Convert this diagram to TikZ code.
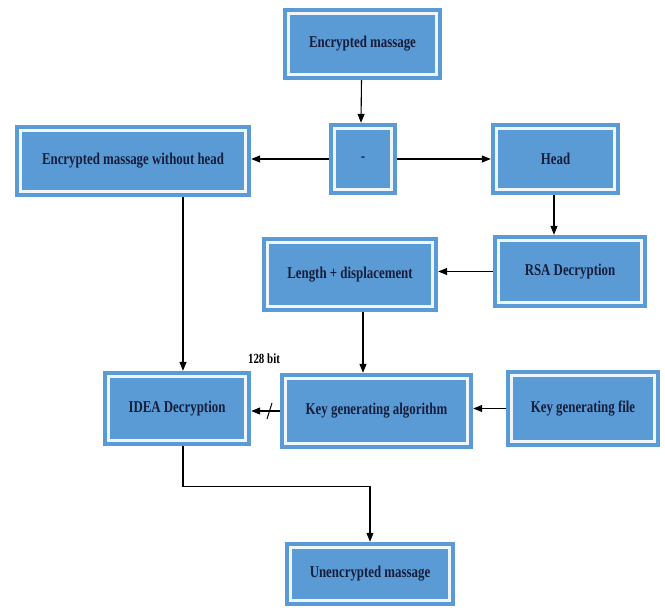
\documentclass[tikz,border=0pt]{standalone}
\usepackage{fontspec}
\setmainfont{Liberation Serif}
\newfontfamily\boxfont[FakeStretch=0.78]{Liberation Serif}
\usetikzlibrary{arrows.meta,calc}
\definecolor{boxblue}{HTML}{5B9BD5}
\definecolor{innerline}{HTML}{EEF6FC}
\definecolor{txtnavy}{HTML}{161E3C}
\tikzset{
  bluebox/.style={fill=boxblue, draw=none, inner sep=0pt,
    font=\boxfont\bfseries\fontsize{16.5}{18}\selectfont, text=txtnavy,
    path picture={\draw[innerline, line width=2.2pt]
      ([shift={(5.5pt,5.5pt)}]path picture bounding box.south west) rectangle
      ([shift={(-5.5pt,-5.5pt)}]path picture bounding box.north east);}},
  arr/.style={draw=black, line width=1.1pt, -{Triangle[length=9pt,width=7pt]}},
  lbl/.style={font=\boxfont\bfseries\fontsize{14}{16}\selectfont, text=black}
}
\begin{document}
\begin{tikzpicture}[x=1pt,y=-1pt]
\useasboundingbox (0,0) rectangle (665,608);
\node[bluebox, minimum width=159pt, minimum height=72pt] (top) at (362.5,44) {Encrypted massage};
\node[bluebox, minimum width=68pt, minimum height=72pt] (minus) at (363,159) {-};
\node[bluebox, minimum width=236pt, minimum height=72pt] (woh) at (133,161) {Encrypted massage without head};
\node[bluebox, minimum width=129pt, minimum height=72pt] (head) at (555.5,159) {Head};
\node[bluebox, minimum width=154pt, minimum height=73pt] (rsa) at (570,271.5) {RSA Decryption};
\node[bluebox, minimum width=176pt, minimum height=75pt] (len) at (350,274.5) {Length + displacement};
\node[bluebox, minimum width=148pt, minimum height=75pt] (idea) at (177,408.5) {IDEA Decryption};
\node[bluebox, minimum width=193pt, minimum height=76pt] (kga) at (376.5,411) {Key generating algorithm};
\node[bluebox, minimum width=154pt, minimum height=77pt] (kgf) at (583,408.5) {Key generating file};
\node[bluebox, minimum width=170pt, minimum height=64pt] (unenc) at (370,574) {Unencrypted massage};
\node[lbl] (bits) at (264,359) {128 bit};

\draw[arr] ([xshift=-1pt]top.south) -- ([xshift=-2pt]minus.north);
\draw[arr] (minus.west) -- (minus.west -| woh.east);
\draw[arr] (minus.east) -- (head.west);
\draw[arr] ([xshift=-1.5pt]head.south) -- ([xshift=-1.5pt]head.south |- rsa.north);
\draw[arr] (rsa.west) -- (rsa.west -| len.east);
\draw[arr] ([xshift=13pt]len.south) -- ([xshift=13pt]len.south |- kga.north);
\draw[arr] ([xshift=50pt]woh.south) -- ([xshift=50pt]woh.south |- idea.north);
\draw[arr] (kgf.west) -- (kgf.west -| kga.east);
\draw[arr] (kga.west) -- (kga.west -| idea.east);
\coordinate (sl) at ($(kga.west -| idea.east)!0.64!(kga.west)$);
\draw[line width=1pt] ([shift={(-2.5pt,-8pt)}]sl) -- ([shift={(2.5pt,8pt)}]sl);
\draw[arr] ([xshift=6pt]idea.south) -- ++(0,40) -| (unenc.north);
\end{tikzpicture}
\end{document}
